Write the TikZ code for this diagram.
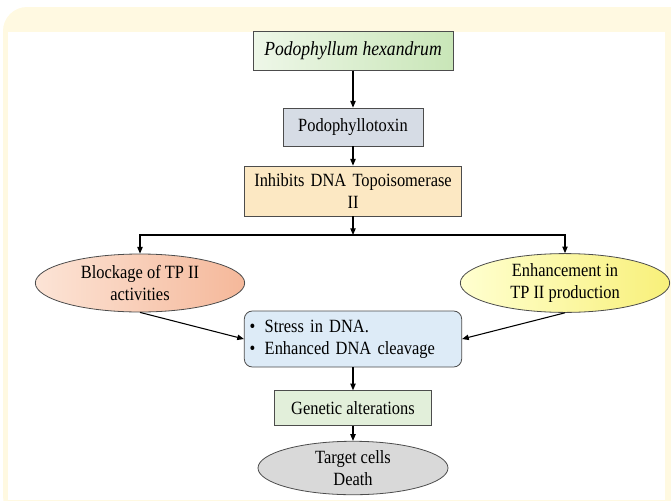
\documentclass[tikz,border=0pt]{standalone}
\usepackage{fontspec}
\setmainfont[FakeStretch=0.88]{Liberation Serif}
\usetikzlibrary{positioning,shapes.geometric,arrows.meta,calc}

\definecolor{frameyel}{HTML}{FFF9E1}
\definecolor{greenA}{HTML}{EEF7E8}
\definecolor{greenB}{HTML}{C9E6B8}
\definecolor{toxin}{HTML}{D6DCE5}
\definecolor{inhib}{HTML}{FCE8C3}
\definecolor{salmonA}{HTML}{FCE4D6}
\definecolor{salmonB}{HTML}{F5B89A}
\definecolor{yelA}{HTML}{FFFFD0}
\definecolor{yelB}{HTML}{F8F07A}
\definecolor{stressbl}{HTML}{DDEBF7}
\definecolor{genet}{HTML}{E2EFDA}
\definecolor{deathgr}{HTML}{D9D9D9}

\begin{document}
\begin{tikzpicture}[x=0.75pt, y=-0.75pt,
    box/.style={draw=black!70, line width=0.6pt, align=center,
      font=\fontsize{14}{16.5}\selectfont, inner sep=2pt},
    oval/.style={ellipse, draw=black!70, line width=0.6pt, align=center,
      font=\fontsize{14}{16.5}\selectfont, inner sep=1pt},
    arrow/.style={-{Triangle[length=5pt,width=4pt]}, line width=0.8pt}
  ]
    % frame
    \useasboundingbox (0,0) rectangle (671,500);
    \fill[frameyel, rounded corners=18pt] (3,7) rectangle (700,520);
    \fill[white] (8,32) rectangle (665,500);

    \node[box, left color=greenA, right color=greenB, minimum width=150pt,
      minimum height=29pt, font=\fontsize{15}{17}\selectfont] (plant) at (353,51)
      {\textit{Podophyllum hexandrum}};
    \node[box, fill=toxin, minimum width=105pt, minimum height=28.5pt]
      (toxin) at (353,127) {Podophyllotoxin};
    \node[box, fill=inhib, minimum width=163pt, minimum height=37.5pt,
      text width=155pt] (inhib) at (353,191) {Inhibits DNA Topoisomerase\\II};
    \node[oval, left color=salmonA, right color=salmonB, minimum width=157pt,
      minimum height=43.5pt] (block) at (140,283) {Blockage of TP II\\activities};
    \node[oval, left color=yelA, right color=yelB, minimum width=157pt,
      minimum height=43.5pt] (enhance) at (565,283) {Enhancement in\\TP II production};
    \node[box, fill=stressbl, rounded corners=6pt, minimum width=163pt,
      minimum height=42pt, text width=155pt, align=left] (stress) at (353,339)
      {\textbullet\enspace Stress in DNA.\\\textbullet\enspace Enhanced DNA cleavage};
    \node[box, fill=genet, minimum width=118pt, minimum height=26pt]
      (genet) at (353,408) {Genetic alterations};
    \node[oval, fill=deathgr, minimum width=142.5pt, minimum height=39pt]
      (death) at (353,468) {Target cells\\Death};

    \coordinate (split) at (353,235);
    \draw[arrow] (plant) -- (toxin);
    \draw[arrow] (toxin) -- (inhib);
    \draw[arrow] (inhib) -- (split);
    \draw[arrow] (split) -| (block);
    \draw[arrow] (split) -| (enhance);
    \draw[arrow] (block.south) -- (stress.west);
    \draw[arrow] (enhance.south) -- (stress.east);
    \draw[arrow] (stress) -- (genet);
    \draw[arrow] (genet) -- (death);
  \end{tikzpicture}
\end{document}
